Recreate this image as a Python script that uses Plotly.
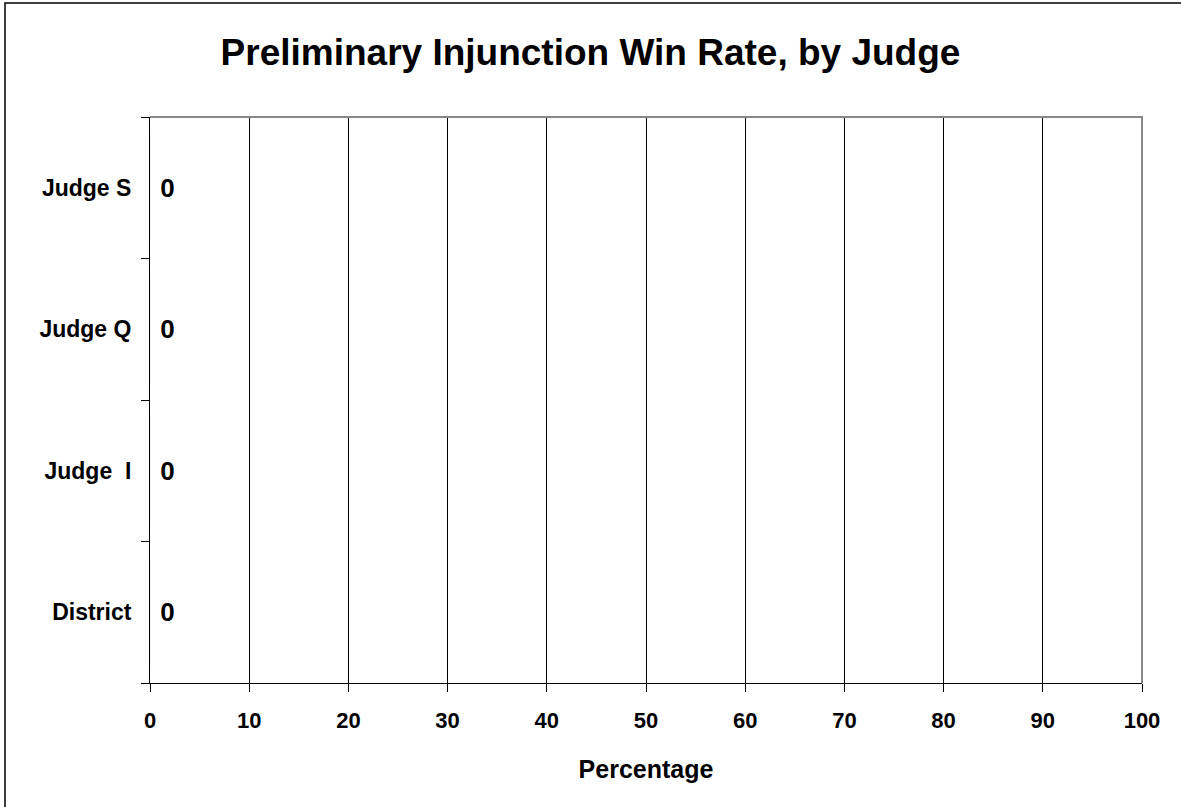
import plotly.graph_objects as go

# data (bottom to top)
judges = ['District', 'Judge  I', 'Judge Q', 'Judge S']
win_rate = [0, 0, 0, 0]
x_ticks = [0, 10, 20, 30, 40, 50, 60, 70, 80, 90, 100]

font_family = 'Liberation Sans, Arial, sans-serif'

fig = go.Figure()

fig.add_trace(go.Bar(
    x=win_rate,
    y=judges,
    orientation='h',
    texttemplate='&nbsp;<b>%{x}</b>',
    textposition='outside',
    textfont=dict(family=font_family, size=26, color='black'),
    marker=dict(color='#9999ff'),
    cliponaxis=False,
    showlegend=False,
))

# plot-area margins in pixels
L, R, T, B = 150, 39, 117, 124
pw = 1181 - L - R
ph = 807 - T - B

fig.update_layout(
    width=1181,
    height=807,
    margin=dict(l=L, r=R, t=T, b=B, pad=0),
    paper_bgcolor='white',
    plot_bgcolor='white',
    font=dict(family=font_family, color='black'),
    title=dict(
        text='<b>Preliminary Injunction Win Rate, by Judge</b>',
        x=0.5, xanchor='center',
        y=1 - 52 / 807, yanchor='middle',
        font=dict(size=37, family=font_family, color='black'),
    ),
    xaxis=dict(
        range=[0, 100],
        tickvals=x_ticks,
        ticktext=['<b>%d</b>' % v for v in x_ticks],
        tickfont=dict(size=22, family=font_family, color='black'),
        showgrid=True, gridcolor='black', gridwidth=1,
        showline=True, linecolor='black', linewidth=1,
        ticks='outside', ticklen=8, tickcolor='black',
        ticklabelstandoff=10,
        zeroline=False,
        title=dict(text='<b>Percentage</b>', font=dict(size=25, family=font_family),
                   standoff=28),
        fixedrange=True,
    ),
    yaxis=dict(
        tickvals=judges,
        ticktext=['<b>%s</b>' % j.replace('  ', '&nbsp; ') for j in judges],
        tickfont=dict(size=23, family=font_family, color='black'),
        showgrid=False,
        showline=True, linecolor='black', linewidth=1,
        ticks='outside', ticklen=8, tickcolor='black',
        tickson='boundaries',
        ticklabelstandoff=13,
        fixedrange=True,
    ),
    shapes=[
        # gray top/right border of plot area
        dict(type='path', xref='paper', yref='paper',
             path='M 0,1 L 1,1 L 1,0',
             line=dict(color='#888888', width=2), layer='above'),
        # outer chart border
        dict(type='rect', xref='paper', yref='paper',
             x0=(5 - L) / pw, x1=(1200 - L) / pw,
             y0=(ph + T - 830) / ph, y1=(ph + T - 3) / ph,
             line=dict(color='black', width=1.5), layer='below'),
    ],
)

fig.write_html('out.html', config={'displayModeBar': False},
               post_script="document.body.style.margin='0';")
